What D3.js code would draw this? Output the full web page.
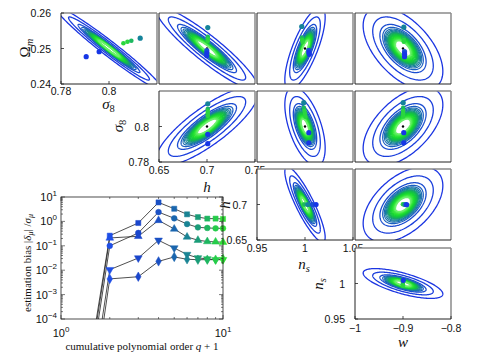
<!DOCTYPE html>
<html><head><meta charset="utf-8">
<script src="https://cdn.jsdelivr.net/npm/d3@7"></script>
<style>body{margin:0;background:#fff} svg{display:block}</style>
</head><body><svg id="c" width="477" height="361"></svg>
<script>
// ---------------- DATA ----------------
// parameters: 0 Ω_m, 1 σ_8, 2 h, 3 n_s, 4 w
const fiducial   = [0.25, 0.8, 0.7, 1.0, -0.9];
const axisMin    = [0.24, 0.78, 0.65, 0.95, -1.0];
const axisMax    = [0.26, 0.82, 0.75, 1.05, -0.8];
const sigmaOuter = [0.0117, 0.0222, 0.053, 0.021, 0.083];
// [xParam, yParam, correlation]
const corrPairs = [[1,0,-0.975],[2,0,-0.92],[3,0,0.75],[4,0,-0.55],
                   [2,1,0.82],[3,1,-0.55],[4,1,0.55],
                   [3,2,-0.87],[4,2,0.5],[4,3,-0.7]];
const contourLevels = [1.0,0.76,0.58,0.51,0.47,0.44,0.415,0.39,0.37,0.35,0.33,0.31,0.29,0.27,0.25,0.23,0.21,0.19];
const contourColors = ["#1b35e2","#1b3fdc","#1b4dd0","#1a5fc0","#1a6db2","#1a79a4","#1a8596","#199188","#18a070","#16b058","#14be48","#14ca3c","#16d434","#1edc30","#2ae234","#3ae840","#50ec52","#6cf06c"];
const dotColors = ["#1636e6","#1a4ed6","#15839a","#1cb860","#2ad63e"];

// estimated parameter points per panel: [x, y, colourIndex]
const dots_s8_Om = [[0.7905,0.2477,0],[0.7959,0.2491,0],[0.806,0.2515,4],[0.8077,0.2519,4],[0.8093,0.2522,3],[0.813,0.2529,2]];
const dots_h_Om  = [[0.7008,0.2559,2],[0.7008,0.2533,3],[0.7008,0.2527,4],[0.7008,0.2521,4],[0.6998,0.2494,1],[0.6998,0.2487,0],[0.6998,0.2480,0]];
const dots_ns_Om = [[0.9966,0.2562,2],[0.9968,0.2531,3],[0.9972,0.2524,4],[0.9975,0.2518,4],[1.004,0.2495,1],[1.004,0.2489,0],[1.0045,0.2484,0]];
const dots_w_Om  = [[-0.8983,0.2560,2],[-0.8983,0.2529,3],[-0.8983,0.2524,4],[-0.8983,0.2519,4],[-0.8968,0.2491,1],[-0.8968,0.2484,0],[-0.8968,0.2477,0]];
const dots_h_s8  = [[0.7008,0.8128,2],[0.7008,0.8099,3],[0.7008,0.8085,4],[0.7008,0.8072,4],[0.7008,0.8060,4],[0.7008,0.7956,0],[0.7008,0.7903,0]];
const dots_ns_s8 = [[0.9987,0.8134,2],[0.9988,0.8105,3],[0.9995,0.8088,4],[1.0,0.8072,4],[1.0005,0.8055,4],[1.004,0.7965,0],[1.004,0.7908,0]];
const dots_w_s8  = [[-0.8996,0.8134,2],[-0.8996,0.8105,3],[-0.8996,0.8088,4],[-0.8996,0.8072,4],[-0.8996,0.8057,4],[-0.8984,0.7965,0],[-0.8984,0.7908,0]];
const dots_ns_h  = [[0.9985,0.7,4],[0.9995,0.7,3],[1.003,0.7,2],[1.008,0.7,1],[1.0115,0.7,0]];
const dots_w_h   = [[-0.9002,0.7003,4],[-0.8960,0.7,2],[-0.8925,0.6998,0]];
const dots_w_ns  = [[-0.9003,1.001,4],[-0.9003,0.999,3],[-0.9003,0.997,4],[-0.8995,1.0045,0]];

// tick values on the diagonal panels
const xTicksByCol = [[0.78,0.8],[0.65,0.7,0.75],[0.95,1,1.05],[-1,-0.9,-0.8]];
const yTicksByRow = [[0.24,0.25,0.26],[0.78,0.8],[0.65,0.7],[0.95,1]];

// bias plot
const qOrder      = [1,2,3,4,5,6,7,8,9,10];
const biasSquare  = [1e-13,0.26,0.86,6.0,3.3,1.95,1.5,1.3,1.3,1.26];
const biasCircle  = [1e-14,0.10,0.335,2.4,1.34,0.78,0.57,0.54,0.52,0.52];
const biasTriUp   = [3e-14,0.21,0.245,1.1,0.49,0.23,0.17,0.15,0.145,0.14];
const biasTriDown = [1e-15,0.0105,0.0316,0.168,0.081,0.044,0.032,0.029,0.027,0.027];
const biasDiamond = [1e-16,0.0044,0.0054,0.023,0.035,0.028,0.027,0.027,0.027,0.029];
const markerColors = ["#1f4fe6","#1a46cc","#1a50c4","#1a66ae","#1a8494","#1a9c78","#1eb660","#26cc4a","#30e036"];
const biasYTicks = [1e-4,1e-3,1e-2,1e-1,1,10];
const biasYExp   = ["−4","−3","−2","−1","0","1"];

// ---------------- LAYOUT ----------------
const svg = d3.select("#c");
svg.append("rect").attr("width",477).attr("height",361).attr("fill","#fff");
const colX = [61,159,257,355], rowY = [13,91,169,248], PW = 96, PH = 71;
const SANS = "'Liberation Sans',Arial,sans-serif", SERIF = "'Liberation Serif','Times New Roman',serif";
const dotsFor = {"1_0":dots_s8_Om,"2_0":dots_h_Om,"3_0":dots_ns_Om,"4_0":dots_w_Om,
                 "2_1":dots_h_s8,"3_1":dots_ns_s8,"4_1":dots_w_s8,
                 "3_2":dots_ns_h,"4_2":dots_w_h,"4_3":dots_w_ns};
function rhoOf(px,py){ const p = corrPairs.find(c=>c[0]===px&&c[1]===py); return p?p[2]:0; }
function fmt(v){ const s = String(Math.abs(v)); return v<0 ? "−"+s : s; }

function addLabel(sel, p){
  sel.attr("font-family",SERIF).attr("font-size",15);
  if(p===0){ sel.append("tspan").text("Ω"); sel.append("tspan").attr("font-style","italic").attr("font-size",10.5).attr("dy",3).text("m"); }
  else if(p===1){ sel.append("tspan").attr("font-style","italic").text("σ"); sel.append("tspan").attr("font-size",10.5).attr("dy",3).text("8"); }
  else if(p===2){ sel.append("tspan").attr("font-style","italic").text("h"); }
  else if(p===3){ sel.append("tspan").attr("font-style","italic").text("n"); sel.append("tspan").attr("font-style","italic").attr("font-size",10.5).attr("dy",3).text("s"); }
  else { sel.append("tspan").attr("font-style","italic").text("w"); }
}
const xLabelPos = [[108.5,109],[207,192],[304,269],[403,347]];
const yLabelPos = [[30,48],[123,126],[230,205],[323,284]];
const xTickBase = [95,174,252,332];
const yTickRight = [51,149,247,345];
const TFS = 10.5;

for(let r=0;r<4;r++){
  for(let c=r;c<4;c++){
    const px = c+1, py = r;
    const x0 = colX[c], y0 = rowY[r];
    const xs = d3.scaleLinear().domain([axisMin[px],axisMax[px]]).range([x0,x0+PW]);
    const ys = d3.scaleLinear().domain([axisMin[py],axisMax[py]]).range([y0+PH,y0]);
    const g = svg.append("g");
    g.append("rect").attr("x",x0).attr("y",y0).attr("width",PW).attr("height",PH).attr("fill","#fff");
    const cid = "clip"+r+c;
    g.append("clipPath").attr("id",cid).append("rect").attr("x",x0).attr("y",y0).attr("width",PW).attr("height",PH);
    const inner = g.append("g").attr("clip-path","url(#"+cid+")");
    const rho = rhoOf(px,py), sx = sigmaOuter[px], sy = sigmaOuter[py];
    const line = d3.line().x(d=>xs(d[0])).y(d=>ys(d[1]));
    contourLevels.forEach((k,i)=>{
      const pts = d3.range(181).map(j=>{const t=2*Math.PI*j/180;
        return [fiducial[px]+k*sx*Math.cos(t), fiducial[py]+k*sy*(rho*Math.cos(t)+Math.sqrt(1-rho*rho)*Math.sin(t))];});
      inner.append("path").attr("d",line(pts)).attr("fill","none")
        .attr("stroke",contourColors[i]).attr("stroke-width", i<3?1.3:(i<8?1.2:1.6));
    });
    const dl = dotsFor[px+"_"+py] || [];
    if(r<2 && c>=1) inner.append("circle").attr("cx",xs(fiducial[px])).attr("cy",ys(fiducial[py])).attr("r",1.2).attr("fill","#000");
    dl.forEach(d=>{
      inner.append("circle").attr("cx",xs(d[0])).attr("cy",ys(d[1])).attr("r",d[2]<=2?2.6:2.3).attr("fill",dotColors[d[2]]);
    });
    g.append("line").attr("x1",x0).attr("y1",y0).attr("x2",x0+PW).attr("y2",y0).attr("stroke","#8a8a8a").attr("stroke-width",1.5);
    g.append("line").attr("x1",x0+PW).attr("y1",y0).attr("x2",x0+PW).attr("y2",y0+PH).attr("stroke","#8a8a8a").attr("stroke-width",1.5);
    g.append("line").attr("x1",x0).attr("y1",y0).attr("x2",x0).attr("y2",y0+PH).attr("stroke","#222").attr("stroke-width",1);
    g.append("line").attr("x1",x0).attr("y1",y0+PH).attr("x2",x0+PW).attr("y2",y0+PH).attr("stroke","#222").attr("stroke-width",1);
    if(r===c){
      xTicksByCol[c].forEach(v=>{
        g.append("line").attr("x1",xs(v)).attr("x2",xs(v)).attr("y1",y0+PH).attr("y2",y0+PH-3).attr("stroke","#222").attr("stroke-width",0.8);
        g.append("text").attr("x",xs(v)).attr("y",xTickBase[c]).attr("text-anchor","middle")
          .attr("font-family",SANS).attr("font-size",TFS).attr("fill","#111").text(fmt(v));
      });
      yTicksByRow[r].forEach(v=>{
        g.append("line").attr("x1",x0).attr("x2",x0+3).attr("y1",ys(v)).attr("y2",ys(v)).attr("stroke","#222").attr("stroke-width",0.8);
        g.append("text").attr("x",yTickRight[r]).attr("y",ys(v)+4).attr("text-anchor","end")
          .attr("font-family",SANS).attr("font-size",TFS).attr("fill","#111").text(fmt(v));
      });
      addLabel(g.append("text").attr("x",xLabelPos[c][0]).attr("y",xLabelPos[c][1]).attr("text-anchor","middle").attr("fill","#111"), px);
      addLabel(g.append("text").attr("transform","translate("+yLabelPos[r][0]+","+yLabelPos[r][1]+") rotate(-90)").attr("text-anchor","middle").attr("fill","#111"), py);
    }
  }
}

// ---------------- BIAS PLOT ----------------
const bx0 = 61, bx1 = 223, by0 = 197, by1 = 319;
const bxs = d3.scaleLog().domain([1,10]).range([bx0,bx1]);
const bys = d3.scaleLog().domain([1e-4,10]).range([by1,by0]);
const bg = svg.append("g");
bg.append("clipPath").attr("id","bclip").append("rect").attr("x",bx0).attr("y",by0-4).attr("width",bx1-bx0+5).attr("height",by1-by0+4);
const bin = bg.append("g").attr("clip-path","url(#bclip)");
const series = [
  {v:biasSquare, sym:d3.symbolSquare, rot:0, size:26},
  {v:biasCircle, sym:d3.symbolCircle, rot:0, size:26},
  {v:biasTriUp, sym:d3.symbolTriangle, rot:0, size:26},
  {v:biasTriDown, sym:d3.symbolTriangle, rot:180, size:26},
  {v:biasDiamond, sym:d3.symbolDiamond, rot:0, size:26}
];
const bline = d3.line().x((d,i)=>bxs(qOrder[i])).y(d=>bys(d));
series.forEach(s=>{
  bin.append("path").attr("d",bline(s.v)).attr("fill","none").attr("stroke","#222").attr("stroke-width",0.8);
});
series.forEach(s=>{
  s.v.forEach((v,i)=>{
    if(i===0) return;
    bin.append("path").attr("d",d3.symbol().type(s.sym).size(s.size)())
      .attr("transform","translate("+bxs(qOrder[i])+","+bys(v)+") rotate("+s.rot+")")
      .attr("fill",markerColors[i-1]).attr("stroke",markerColors[i-1]).attr("stroke-width",0.5);
  });
});
bg.append("rect").attr("x",bx0).attr("y",by0).attr("width",bx1-bx0).attr("height",by1-by0).attr("fill","none").attr("stroke","#222").attr("stroke-width",0.8);
for(let e=-4;e<=1;e++){
  for(let m=1;m<10;m++){
    const v = m*Math.pow(10,e); if(v>10) break; const y = bys(v); const L = m===1?4:2;
    bg.append("line").attr("x1",bx0).attr("x2",bx0+L).attr("y1",y).attr("y2",y).attr("stroke","#222").attr("stroke-width",0.6);
    bg.append("line").attr("x1",bx1).attr("x2",bx1-L).attr("y1",y).attr("y2",y).attr("stroke","#222").attr("stroke-width",0.6);
  }
}
for(let m=1;m<=10;m++){
  const x = bxs(m); const L = (m===1||m===10)?4:2;
  bg.append("line").attr("x1",x).attr("x2",x).attr("y1",by1).attr("y2",by1-L).attr("stroke","#222").attr("stroke-width",0.6);
  bg.append("line").attr("x1",x).attr("x2",x).attr("y1",by0).attr("y2",by0+L).attr("stroke","#222").attr("stroke-width",0.6);
}
biasYTicks.forEach((v,i)=>{
  const t = bg.append("text").attr("x",57).attr("y",bys(v)+4).attr("text-anchor","end").attr("font-family",SANS).attr("font-size",11).attr("fill","#111");
  t.append("tspan").text("10");
  t.append("tspan").attr("font-size",8).attr("dy",-5).text(biasYExp[i]);
});
[[1,"0"],[10,"1"]].forEach(d=>{
  const t = bg.append("text").attr("x",bxs(d[0])).attr("y",337).attr("text-anchor","middle").attr("font-family",SANS).attr("font-size",11).attr("fill","#111");
  t.append("tspan").text("10");
  t.append("tspan").attr("font-size",8).attr("dy",-5).text(d[1]);
});
const xl = bg.append("text").attr("x",142).attr("y",350).attr("text-anchor","middle").attr("font-family",SERIF).attr("font-size",11).attr("fill","#111");
xl.append("tspan").text("cumulative polynomial order ");
xl.append("tspan").attr("font-style","italic").text("q");
xl.append("tspan").text(" + 1");
const yl = bg.append("text").attr("transform","translate(31,263) rotate(-90)").attr("text-anchor","middle").attr("font-family",SERIF).attr("font-size",11).attr("fill","#111");
yl.append("tspan").text("estimation bias |");
yl.append("tspan").attr("font-style","italic").text("δ");
yl.append("tspan").attr("font-style","italic").attr("font-size",8).attr("dy",2).text("μ");
yl.append("tspan").attr("dy",-2).text("| /");
yl.append("tspan").attr("font-style","italic").text("σ");
yl.append("tspan").attr("font-style","italic").attr("font-size",8).attr("dy",2).text("μ");
</script></body></html>
